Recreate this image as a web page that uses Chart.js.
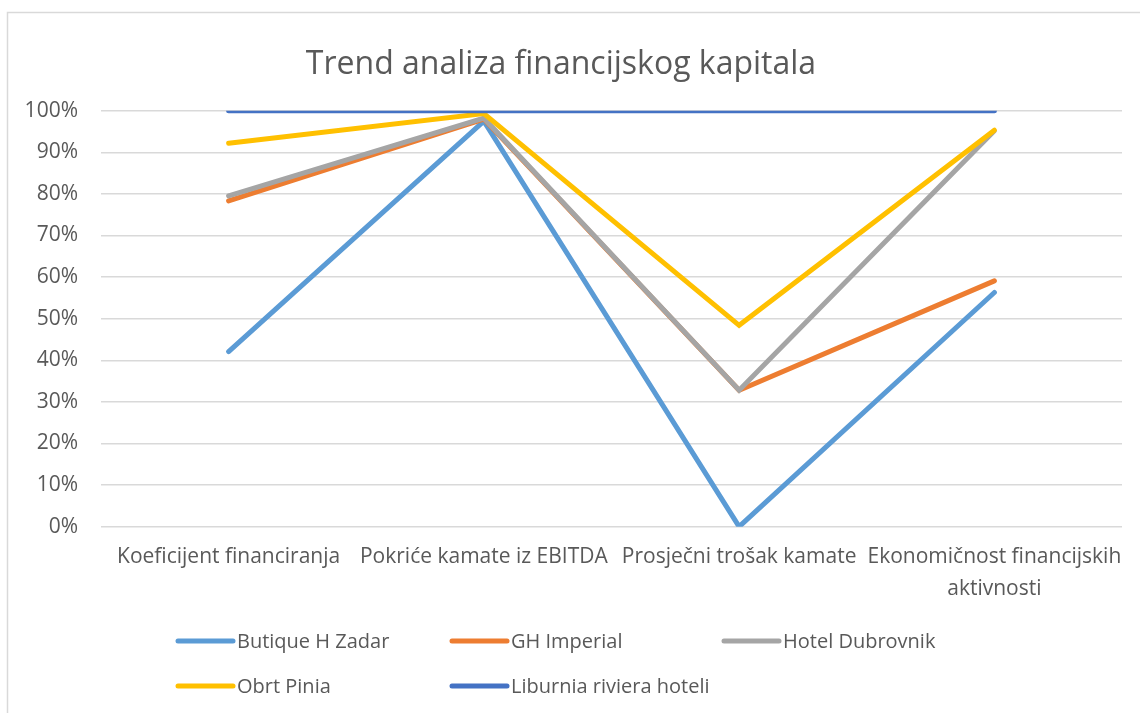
<!DOCTYPE html>
<html>
<head>
<meta charset="utf-8">
<script src="https://cdn.jsdelivr.net/npm/chart.js@4.4.1/dist/chart.umd.min.js"></script>
<style>
  html, body { margin: 0; padding: 0; background: #fff; }
  #wrap { width: 1140px; height: 713px; }
</style>
</head>
<body>
<div id="wrap"><canvas id="myChart" width="1140" height="713"></canvas></div>
<script>
// chart data
var categories = [
    'Koeficijent financiranja',
    'Pokriće kamate iz EBITDA',
    'Prosječni trošak kamate',
    ['Ekonomičnost financijskih', 'aktivnosti']
];
var seriesNames = ['Butique H Zadar', 'GH Imperial', 'Hotel Dubrovnik', 'Obrt Pinia', 'Liburnia riviera hoteli'];
var butiqueZadar = [42.1, 97.5, 0, 56.3];
var ghImperial = [78.3, 98.0, 32.8, 59.1];
var hotelDubrovnik = [79.5, 98.2, 32.8, 95.2];
var obrtPinia = [92.2, 99.3, 48.4, 95.3];
var liburnia = [100, 100, 100, 100];
var yTicks = [0, 10, 20, 30, 40, 50, 60, 70, 80, 90, 100];

var colors = ['#5B9BD5', '#ED7D31', '#A5A5A5', '#FFC000', '#4472C4'];
var seriesValues = [butiqueZadar, ghImperial, hotelDubrovnik, obrtPinia, liburnia];
var textColor = '#595959';
var fontFamily = "'Open Sans', 'Noto Sans', sans-serif";

// white background + outer frame like the office chart
var framePlugin = {
    id: 'frame',
    beforeDraw: function (chart) {
        var c = chart.ctx;
        c.save();
        c.fillStyle = '#fff';
        c.fillRect(0, 0, chart.width, chart.height);
        c.strokeStyle = '#d9d9d9';
        c.lineWidth = 1.5;
        c.strokeRect(7.5, 12.5, 1300, 900);
        c.restore();
    }
};

// legend laid out in a grid (3 columns) like the reference
var gridLegend = {
    id: 'gridLegend',
    afterDraw: function (chart) {
        var c = chart.ctx;
        var cols = [178, 452, 724];
        var rows = [641, 686];
        c.save();
        c.font = '20px ' + fontFamily;
        c.textBaseline = 'middle';
        c.textAlign = 'left';
        chart.data.datasets.forEach(function (ds, i) {
            var x = cols[i % 3];
            var y = rows[Math.floor(i / 3)];
            c.strokeStyle = ds.borderColor;
            c.lineWidth = 5;
            c.lineCap = 'round';
            c.beginPath();
            c.moveTo(x, y);
            c.lineTo(x + 55, y);
            c.stroke();
            c.fillStyle = textColor;
            c.fillText(ds.label, x + 59, y + 1);
        });
        c.restore();
    }
};

var ctx = document.getElementById('myChart').getContext('2d');
var myChart = new Chart(ctx, {
    type: 'line',
    data: {
        labels: categories,
        datasets: seriesNames.map(function (name, i) {
            return {
                label: name,
                data: seriesValues[i],
                borderColor: colors[i],
                backgroundColor: colors[i],
                borderWidth: 5,
                borderCapStyle: 'round',
                pointRadius: 0,
                pointHoverRadius: 0,
                tension: 0,
                fill: false,
                order: seriesNames.length - 1 - i
            };
        })
    },
    plugins: [framePlugin, gridLegend],
    options: {
        responsive: false,
        animation: false,
        layout: {
            padding: { left: 0, right: 18, top: 0, bottom: 100 }
        },
        plugins: {
            legend: { display: false },
            tooltip: { enabled: false },
            title: {
                display: true,
                text: 'Trend analiza financijskog kapitala',
                color: textColor,
                font: { family: fontFamily, size: 32, weight: 'normal', lineHeight: 1.2 },
                padding: { top: 46, bottom: 26.3 }
            }
        },
        scales: {
            x: {
                offset: true,
                grid: { display: false, drawTicks: false },
                border: { display: false },
                ticks: {
                    color: textColor,
                    padding: 15,
                    maxRotation: 0,
                    autoSkip: false,
                    font: { family: fontFamily, size: 21, lineHeight: 1.5 }
                },
                afterFit: function (scale) { scale.height = 86.3; }
            },
            y: {
                min: 0,
                max: 100,
                afterBuildTicks: function (scale) {
                    scale.ticks = yTicks.map(function (v) { return { value: v }; });
                },
                grid: { color: '#d9d9d9', lineWidth: 1.5, drawTicks: false },
                border: { display: false },
                ticks: {
                    color: textColor,
                    padding: 23,
                    font: { family: fontFamily, size: 21 },
                    callback: function (v) { return v + '%'; }
                },
                afterFit: function (scale) { scale.width = 101; }
            }
        }
    }
});
</script>
</body>
</html>
